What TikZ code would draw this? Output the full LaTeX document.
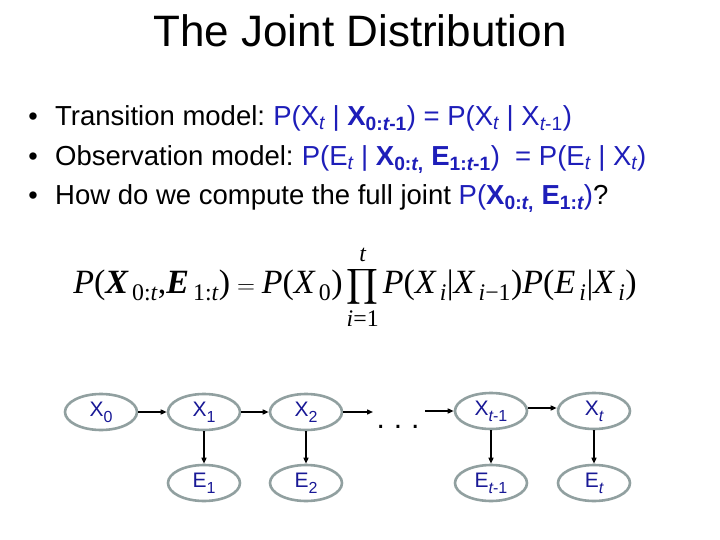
\documentclass[tikz,border=0pt]{standalone}
\usepackage{fontspec}
\usepackage{amsmath}
\setmainfont{Liberation Sans}
\newfontfamily\tnr{Liberation Serif}
\usetikzlibrary{shapes.geometric,arrows.meta}
\definecolor{elgray}{RGB}{145,160,160}
\definecolor{nodeblue}{RGB}{25,25,150}
\definecolor{txtblue}{RGB}{30,30,185}
\newcommand\bl[1]{\textcolor{txtblue}{#1}}
\newcommand\sbs[1]{\textsubscript{#1}}
\newcommand\nsub[1]{\raisebox{-6pt}{\fontsize{16}{16}\selectfont #1}}
\newcommand\ti[1]{\text{\tnr\itshape #1}}
\newcommand\tbi[1]{\text{\tnr\bfseries\itshape #1}}
\newcommand\tr[1]{\text{\tnr #1}}
\newcommand\gp{\mkern3mu}
\begin{document}
\begin{tikzpicture}[x=1pt,y=-1pt,
  var/.style={ellipse, draw=elgray, line width=2.6pt, minimum width=72pt, minimum height=36pt, inner sep=0pt, text=nodeblue, font=\fontsize{21}{25}\selectfont},
  arr/.style={-{Triangle[length=6pt,width=5pt]}, line width=1.4pt, black},
  line/.style={anchor=base west, font=\fontsize{27.5}{31}\selectfont, inner sep=0pt},
  bul/.style={anchor=base, font=\fontsize{27}{31}\selectfont, inner sep=0pt}]
\useasboundingbox[fill=white] (0,0) rectangle (720,540);
% title
\node[anchor=base, font=\fontsize{44}{50}\selectfont, inner sep=0pt] (title) at (360,47) {The Joint Distribution};
% bullets
\node[bul] (b1) at (33,126) {•};
\node[bul] (b2) at (33,166) {•};
\node[bul] (b3) at (33,205) {•};
\node[line] (l1) at (55,126) {Transition model:\hspace{-2pt} \bl{P(X\sbs{\itshape t} | \textbf{X\sbs{0:\itshape t\upshape -1}}) = P(X\sbs{\itshape t} | X\sbs{\itshape t\upshape -1})}};
\node[line] (l2) at (55,166) {Observation model:\hspace{-2pt} \bl{P(E\sbs{\itshape t} | \textbf{X\sbs{0:\itshape t\upshape ,}} \textbf{E\sbs{1:\itshape t\upshape -1}})\ \ = P(E\sbs{\itshape t} | X\sbs{\itshape t})}};
\node[line] (l3) at (55,205) {How do we compute the full joint \bl{P(\textbf{X\sbs{0:\itshape t\upshape ,}} \textbf{E\sbs{1:\itshape t}})}?};
% formula
\node[inner sep=0pt, anchor=base, font=\fontsize{34}{40}\selectfont] (formula) at (355,293)
 {$\displaystyle \ti{P}\tr{(}\tbi{X}_{\gp\tr{0:}\ti{t}}\tr{,}\tbi{E}_{\gp\tr{1:}\ti{t}}\tr{)} = \ti{P}\tr{(}\ti{X}_{\gp\tr{0}}\tr{)}\prod_{\ti{i}\tr{=1}}^{\ti{t}}\ti{P}\tr{(}\ti{X}_{\gp\ti{i}}\tr{|}\ti{X}_{\gp\ti{i}\tr{−1}}\tr{)}\ti{P}\tr{(}\ti{E}_{\gp\ti{i}}\tr{|}\ti{X}_{\gp\ti{i}}\tr{)}$};
% network
\node[var] (x0) at (101,412) {X\nsub{0}};
\node[var] (x1) at (204,412) {X\nsub{1}};
\node[var] (x2) at (306,412) {X\nsub{2}};
\node[var] (xtm) at (491,411) {X\nsub{\itshape t\upshape -1}};
\node[var] (xt) at (594,411) {X\nsub{\itshape t}};
\node[var] (e1) at (204,483) {E\nsub{1}};
\node[var] (e2) at (306,483) {E\nsub{2}};
\node[var] (etm) at (491,483) {E\nsub{\itshape t\upshape -1}};
\node[var] (et) at (594,483) {E\nsub{\itshape t}};
\node[inner sep=0pt, font=\fontsize{30}{34}\selectfont, anchor=base] (dots) at (398,428) {.\hspace{9pt}.\hspace{9pt}.};
\coordinate (c1) at (373,412);
\coordinate (c2) at (425,411);
\draw[arr] (x0) -- (x1);
\draw[arr] (x1) -- (x2);
\draw[arr] (x2) -- (c1);
\draw[arr] (c2) -- (xtm);
\draw[arr] ([yshift=3pt]xtm.east) -- ([yshift=3pt]xt.west);
\draw[arr] (x1) -- (e1);
\draw[arr] (x2) -- (e2);
\draw[arr] (xtm) -- (etm);
\draw[arr] (xt) -- (et);
\end{tikzpicture}
\end{document}
